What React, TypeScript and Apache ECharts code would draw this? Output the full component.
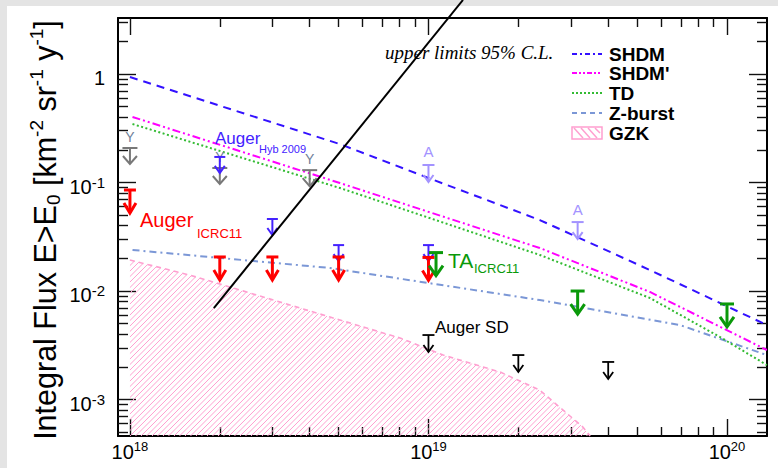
import React, { useEffect, useRef } from 'react';
import * as echarts from 'echarts';

// Energies in EeV (1 EeV = 10^18 eV), integral flux in km^-2 sr^-1 yr^-1
const shdmE = [1, 5.05, 10, 23.6, 55.2, 136];
const shdmF = [0.938, 0.226, 0.11, 0.0451, 0.0156, 0.00486];
const shdmPE = [1.02, 5.05, 23.6, 55.2, 136];
const shdmPF = [0.402, 0.0989, 0.0249, 0.0098, 0.00286];
const tdE = [1.02, 5.05, 23.6, 55.2, 94.7, 136];
const tdF = [0.346, 0.089, 0.0215, 0.00862, 0.00377, 0.00208];
const zbE = [1.02, 4.68, 23.6, 69.6, 136];
const zbF = [0.0239, 0.0163, 0.00826, 0.00486, 0.00257];
const gzkE = [1, 1.59, 2.16, 4.68, 8.03, 11.2, 17.4, 23.6, 32.9, 34.8];
const gzkF = [0.0193, 0.014, 0.0109, 0.00576, 0.00369, 0.00257, 0.00179, 0.00122, 0.000558, 0.000461];

// Upper limits (EeV, flux)
const yakE = [1, 2, 4];
const yakF = [0.208, 0.136, 0.13];
const hybE = [2, 3, 5, 10];
const hybF = [0.172, 0.0461, 0.0265, 0.0265];
const icrcE = [1, 2, 3, 5, 10];
const icrcF = [0.0853, 0.0206, 0.0206, 0.0206, 0.0204];
const agasaE = [10, 31.6];
const agasaF = [0.145, 0.0432];
const taE = [10.6, 31.6, 100];
const taF = [0.0226, 0.01, 0.0076];
const sdE = [10, 20, 40];
const sdF = [0.00393, 0.00257, 0.00222];

// hand-drawn diagonal annotation
const annotE = [1.91, 13.05];
const annotF = [0.00697, 4.81];

const xMajor = [18, 19, 20];
const yMajor = [-3, -2, -1, 0];

const X_MIN = 17.96;
const X_MAX = 20.134;
const Y_MIN = -3.336;
const Y_MAX = 0.516;

const FONT = '"Liberation Sans", Arial, sans-serif';

const lx = (e: number) => 18 + Math.log10(e);
const toPts = (E: number[], F: number[]) => E.map((e, i) => [lx(e), Math.log10(F[i])]);

const minorTicks = (lo: number, hi: number, nFrom: number, nTo: number) => {
  const out: number[] = [];
  for (let n = nFrom; n <= nTo; n++) {
    for (let k = 2; k <= 9; k++) {
      const v = n + Math.log10(k);
      if (v > lo && v < hi) out.push(v);
    }
  }
  return out;
};
const xMinor = minorTicks(X_MIN, X_MAX, 17, 20);
const yMinor = minorTicks(Y_MIN, Y_MAX, -4, 0);

type ArrowCfg = {
  color: string; w: number; len: number; hw: number; hh: number; lw: number;
  label?: string; labelColor?: string; labelDy?: number; labelSize?: number;
};

function arrowSeries(name: string, E: number[], F: number[], c: ArrowCfg) {
  return {
    type: 'custom',
    name,
    coordinateSystem: 'cartesian2d',
    xAxisIndex: 0,
    yAxisIndex: 0,
    z: 5,
    data: toPts(E, F),
    renderItem: (_params: any, api: any) => {
      const p = api.coord([api.value(0), api.value(1)]);
      const x = p[0];
      const y = p[1];
      const children: any[] = [
        { type: 'line', shape: { x1: x - c.w / 2, y1: y, x2: x + c.w / 2, y2: y }, style: { stroke: c.color, lineWidth: c.lw } },
        { type: 'line', shape: { x1: x, y1: y, x2: x, y2: y + c.len }, style: { stroke: c.color, lineWidth: c.lw } },
        {
          type: 'polyline',
          shape: { points: [[x - c.hw, y + c.len - c.hh], [x, y + c.len], [x + c.hw, y + c.len - c.hh]] },
          style: { stroke: c.color, lineWidth: c.lw, fill: 'none' },
        },
      ];
      if (c.label) {
        children.push({
          type: 'text',
          x,
          y: y + (c.labelDy || -13),
          style: {
            text: c.label,
            fill: c.labelColor || c.color,
            fontSize: c.labelSize || 15,
            fontFamily: FONT,
            align: 'center',
            verticalAlign: 'middle',
          },
        });
      }
      return { type: 'group', children };
    },
  };
}

function lineSeries(name: string, E: number[], F: number[], color: string, dash: any, width = 2) {
  return {
    type: 'line',
    name,
    data: toPts(E, F),
    showSymbol: false,
    smooth: false,
    z: 3,
    lineStyle: { color, width, type: dash },
    silent: true,
  };
}

const xLabelRich = {
  b: { fontSize: 20, lineHeight: 24, fontFamily: FONT, color: '#000' },
  s: { fontSize: 13, lineHeight: 4, verticalAlign: 'top', fontFamily: FONT, color: '#000' },
};
const yLabelRich = {
  b: { fontSize: 20, lineHeight: 24, fontFamily: FONT, color: '#000' },
  s: { fontSize: 15, lineHeight: 4, verticalAlign: 'top', fontFamily: FONT, color: '#000' },
};

const frameLine = { show: true, onZero: false, lineStyle: { color: '#000', width: 2 } };
const tickStyle = { color: '#111', width: 1.4 };

function xAxisDef(position: 'top' | 'bottom', major: boolean) {
  return {
    type: 'value',
    position,
    min: X_MIN,
    max: X_MAX,
    splitLine: { show: false },
    axisLine: major ? frameLine : { show: false, onZero: false },
    axisTick: { show: true, inside: true, length: major ? 17 : 9, customValues: major ? xMajor : xMinor, lineStyle: tickStyle },
    axisLabel:
      major && position === 'bottom'
        ? {
            show: true,
            customValues: xMajor,
            margin: 4,
            formatter: (v: number) => `{b|10}{s|${Math.round(v)}}`,
            rich: xLabelRich,
          }
        : { show: false },
  };
}

function yAxisDef(position: 'left' | 'right', major: boolean) {
  return {
    type: 'value',
    position,
    min: Y_MIN,
    max: Y_MAX,
    splitLine: { show: false },
    axisLine: major ? frameLine : { show: false, onZero: false },
    axisTick: { show: true, inside: true, length: major ? 18 : 10, customValues: major ? yMajor : yMinor, lineStyle: tickStyle },
    axisLabel:
      major && position === 'left'
        ? {
            show: true,
            customValues: yMajor,
            margin: 13,
            padding: [8, 0, 0, 0],
            formatter: (v: number) => (Math.abs(v) < 1e-9 ? '{b|1}' : `{b|10}{s|${Math.round(v)}}`),
            rich: yLabelRich,
          }
        : { show: false },
  };
}

const gzkHatch = {
  type: 'custom',
  name: 'GZK hatch',
  coordinateSystem: 'cartesian2d',
  xAxisIndex: 0,
  yAxisIndex: 0,
  z: 1,
  data: [[lx(gzkE[0]), Math.log10(gzkF[0])]],
  renderItem: (_params: any, api: any) => {
    const top = toPts(gzkE, gzkF).map((p) => api.coord(p));
    const yb = api.coord([X_MIN, Y_MIN])[1];
    const poly = [...top, [top[top.length - 1][0], yb], [top[0][0], yb]];
    const xL = top[0][0];
    const xR = top[top.length - 1][0];
    const yT = Math.min(...top.map((p: number[]) => p[1]));
    const H = yb - yT;
    const children: any[] = [];
    for (let s = xL - H; s < xR + 2; s += 5.5) {
      children.push({
        type: 'line',
        shape: { x1: s, y1: yb, x2: s + H, y2: yT },
        style: { stroke: '#ff9fd0', lineWidth: 1 },
      });
    }
    return { type: 'group', children, clipPath: { type: 'polygon', shape: { points: poly } } };
  },
};

const legendRows = [
  { label: 'SHDM', color: '#3311ff', dash: [5, 3, 2, 3], width: 2 },
  { label: "SHDM'", color: '#ff00ff', dash: [5, 2, 2, 2, 2, 2], width: 2 },
  { label: 'TD', color: '#33bb33', dash: [2, 2], width: 2 },
  { label: 'Z-burst', color: '#7b97d6', dash: [5, 4], width: 2 },
];
const legendY = [54, 73, 93, 113, 133];

function buildGraphic() {
  const g: any[] = [
    { type: 'rect', z: 0, shape: { x: 0, y: 0, width: 778, height: 6 }, style: { fill: '#e4e4e4' } },
    { type: 'rect', z: 0, shape: { x: 0, y: 0, width: 7, height: 468 }, style: { fill: '#e4e4e4' } },
    {
      type: 'text',
      z: 10,
      x: 45,
      y: 230,
      rotation: Math.PI / 2,
      style: {
        text: '{t|Integral Flux E>E}{d|0}{t| [km}{u|-2}{t| sr}{u|-1}{t| y}{u|-1}{t|]}',
        align: 'center',
        verticalAlign: 'middle',
        rich: {
          t: { fontSize: 30.5, lineHeight: 36, fontFamily: FONT, fill: '#000' },
          u: { fontSize: 19, lineHeight: 12, verticalAlign: 'top', fontFamily: FONT, fill: '#000' },
          d: { fontSize: 19, lineHeight: 12, verticalAlign: 'bottom', fontFamily: FONT, fill: '#000' },
        },
      },
    },
    {
      type: 'text',
      z: 10,
      x: 385,
      y: 52,
      style: {
        text: 'upper limits 95% C.L.',
        fontSize: 19,
        fontStyle: 'italic',
        fontFamily: '"Liberation Serif", "Times New Roman", serif',
        fill: '#000',
        align: 'left',
        verticalAlign: 'middle',
      },
    },
    // in-plot labels
    {
      type: 'text', z: 10, x: 215, y: 138,
      style: { text: 'Auger', fontSize: 17, fontFamily: FONT, fill: '#4422ff', verticalAlign: 'middle' },
    },
    {
      type: 'text', z: 10, x: 259, y: 149,
      style: { text: 'Hyb 2009', fontSize: 11, fontFamily: FONT, fill: '#4422ff', verticalAlign: 'middle' },
    },
    {
      type: 'text', z: 10, x: 140, y: 220,
      style: { text: 'Auger', fontSize: 20, fontFamily: FONT, fill: '#ff0000', verticalAlign: 'middle' },
    },
    {
      type: 'text', z: 10, x: 197, y: 233,
      style: { text: 'ICRC11', fontSize: 13, fontFamily: FONT, fill: '#ff0000', verticalAlign: 'middle' },
    },
    {
      type: 'text', z: 10, x: 448, y: 260,
      style: { text: 'TA', fontSize: 21, fontFamily: FONT, fill: '#0a990a', verticalAlign: 'middle' },
    },
    {
      type: 'text', z: 10, x: 474, y: 268,
      style: { text: 'ICRC11', fontSize: 13, fontFamily: FONT, fill: '#0a990a', verticalAlign: 'middle' },
    },
    {
      type: 'text', z: 10, x: 435, y: 327,
      style: { text: 'Auger SD', fontSize: 17, fontFamily: FONT, fill: '#000', verticalAlign: 'middle' },
    },
  ];
  legendRows.forEach((r, i) => {
    g.push({
      type: 'line', z: 10,
      shape: { x1: 572, y1: legendY[i], x2: 602, y2: legendY[i] },
      style: { stroke: r.color, lineWidth: r.width, lineDash: r.dash },
    });
  });
  // GZK legend icon
  const gy = legendY[4];
  g.push({
    type: 'rect', z: 10,
    shape: { x: 572, y: gy - 6, width: 30, height: 12 },
    style: { fill: 'none', stroke: '#ff9fd0', lineWidth: 1.5 },
  });
  for (let k = 0; k < 4; k++) {
    const x0 = 574 + k * 7;
    g.push({
      type: 'line', z: 10,
      shape: { x1: x0, y1: gy - 5, x2: x0 + Math.min(9, 600 - x0), y2: gy - 5 + Math.min(10, 600 - x0) },
      style: { stroke: '#ff9fd0', lineWidth: 1.5 },
    });
  }
  const labels = ['SHDM', "SHDM'", 'TD', 'Z-burst', 'GZK'];
  labels.forEach((t, i) => {
    g.push({
      type: 'text', z: 10, x: 609, y: legendY[i],
      style: { text: t, fontSize: 19, fontWeight: 'bold', fontFamily: FONT, fill: '#000', verticalAlign: 'middle' },
    });
  });
  return g;
}

function buildOption() {
  return {
    animation: false,
    backgroundColor: '#ffffff',
    grid: { left: 118, top: 18, width: 649, height: 418, containLabel: false, outerBoundsMode: 'none' },
    xAxis: [xAxisDef('bottom', true), xAxisDef('bottom', false), xAxisDef('top', true), xAxisDef('top', false)],
    yAxis: [yAxisDef('left', true), yAxisDef('left', false), yAxisDef('right', true), yAxisDef('right', false)],
    graphic: buildGraphic(),
    series: [
      gzkHatch,
      { ...lineSeries('GZK', gzkE, gzkF, '#ff9fd0', [5, 4], 1.6), z: 2 },
      lineSeries('Z-burst', zbE, zbF, '#7b97d6', [7, 4, 2, 4]),
      lineSeries('TD', tdE, tdF, '#33bb33', [2, 2.5]),
      lineSeries("SHDM'", shdmPE, shdmPF, '#ff00ff', [8, 3, 2, 3, 2, 3]),
      lineSeries('SHDM', shdmE, shdmF, '#3311ff', [8, 6]),
      arrowSeries('Yakutsk', yakE, yakF, { color: '#787878', w: 15, len: 16, hw: 7, hh: 8, lw: 2, label: 'Y', labelColor: '#6f7f9a', labelDy: -11, labelSize: 14 }),
      arrowSeries('Auger Hyb 2009', hybE, hybF, { color: '#4422ff', w: 11, len: 16, hw: 5, hh: 7, lw: 2 }),
      arrowSeries('AGASA', agasaE, agasaF, { color: '#a393ff', w: 12, len: 17, hw: 5, hh: 7, lw: 2, label: 'A', labelDy: -13, labelSize: 15 }),
      arrowSeries('Auger ICRC11', icrcE, icrcF, { color: '#ff0000', w: 12, len: 23, hw: 6, hh: 10, lw: 3 }),
      arrowSeries('TA ICRC11', taE, taF, { color: '#0a990a', w: 14, len: 23, hw: 7, hh: 10, lw: 3 }),
      arrowSeries('Auger SD', sdE, sdF, { color: '#000000', w: 12, len: 17, hw: 5, hh: 7, lw: 1.8 }),
      {
        type: 'line',
        name: 'annotation',
        data: toPts(annotE, annotF),
        showSymbol: false,
        clip: false,
        z: 8,
        lineStyle: { color: '#000', width: 2 },
        silent: true,
      },
    ],
  };
}

export default function App() {
  const ref = useRef<HTMLDivElement>(null);
  useEffect(() => {
    if (!ref.current) return;
    const chart = echarts.init(ref.current, null, { renderer: 'svg', width: 778, height: 468 });
    chart.setOption(buildOption() as any);
    return () => chart.dispose();
  }, []);
  return (
    <div
      ref={ref}
      style={{ position: 'absolute', left: 0, top: 0, width: 778, height: 468, background: '#fff' }}
    />
  );
}
